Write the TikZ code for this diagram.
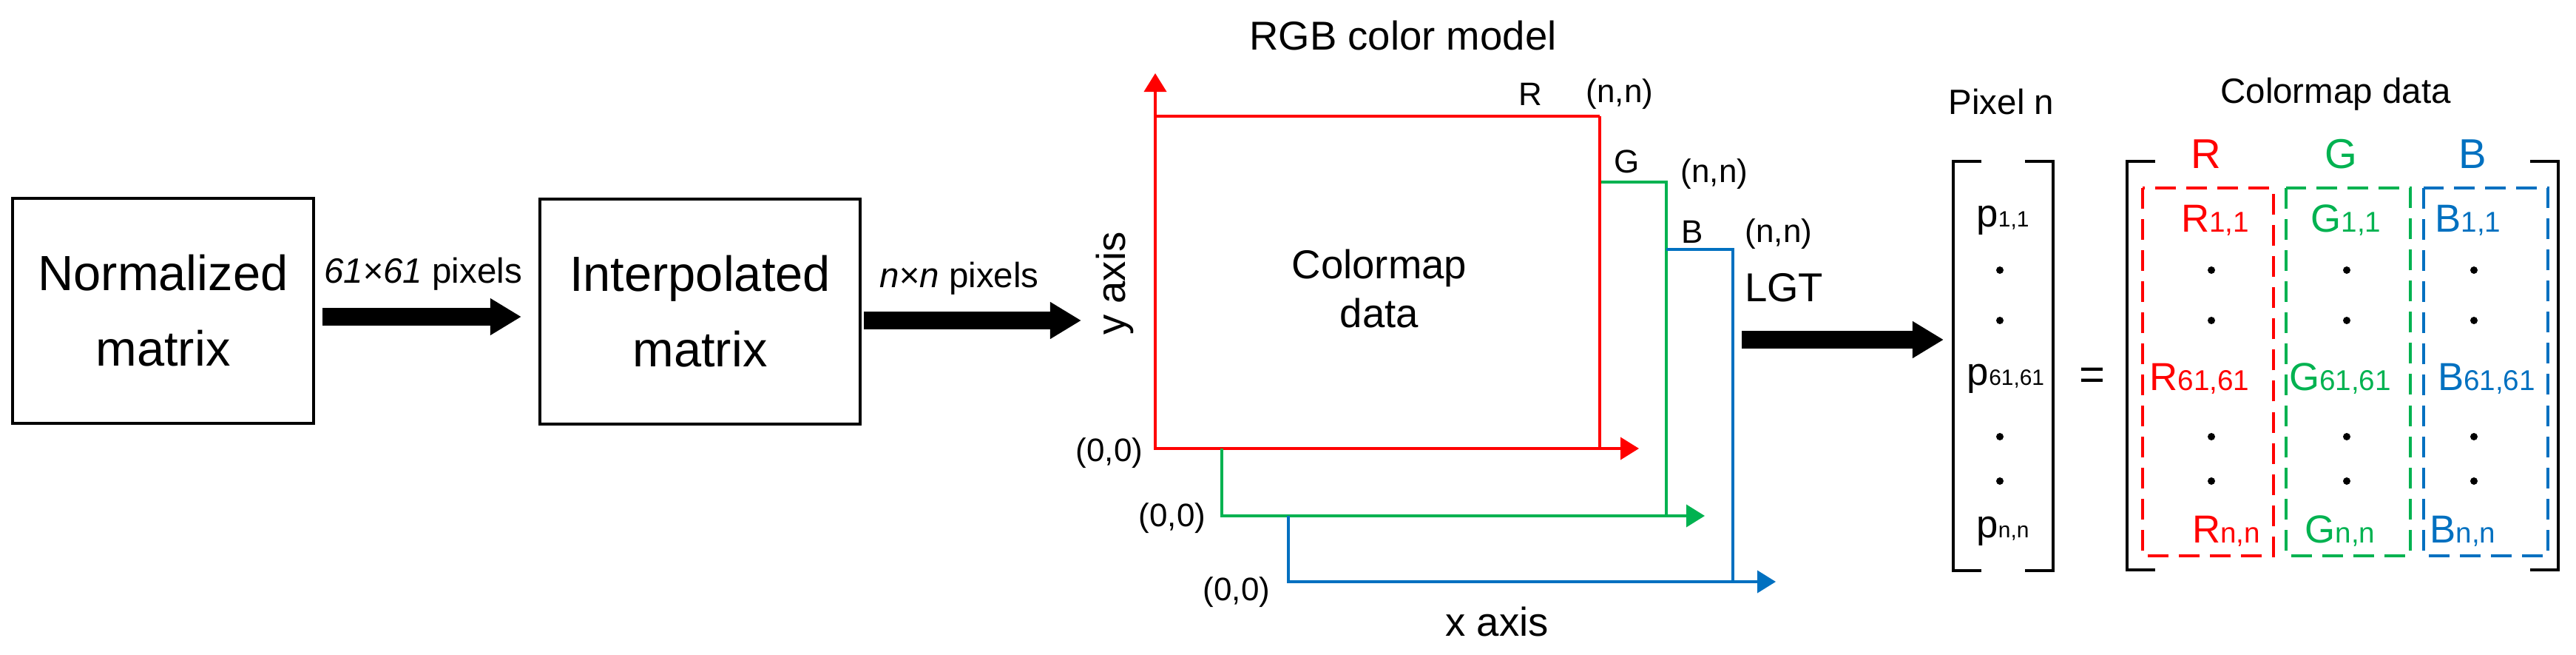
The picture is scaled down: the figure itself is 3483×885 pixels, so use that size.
\documentclass[tikz,border=0pt]{standalone}
\usepackage{fontspec}
\setmainfont{Liberation Sans}
\usetikzlibrary{arrows.meta}
\definecolor{cR}{RGB}{255,0,0}
\definecolor{cG}{RGB}{0,178,80}
\definecolor{cB}{RGB}{0,112,192}
\newcommand{\fz}[1]{\fontsize{#1}{#1}\selectfont}
\newcommand{\ent}[2]{#1{\fz{11}#2}}
\newcommand{\pent}[2]{#1{\fz{8.5}#2}}
\begin{document}
\begin{tikzpicture}[x=0.01cm,y=-0.01cm,
  box/.style={draw,line width=1.1pt,minimum width=4.07cm,minimum height=3.04cm,align=center,font=\fz{19}},
  big/.style={line width=0.23cm,-{Triangle[length=0.42cm,width=0.47cm]}},
  ax/.style={line width=1.1pt,-{Triangle[length=0.25cm,width=0.3cm]}},
  lab/.style={font=\fz{12.5},inner sep=0pt},
  mt/.style={font=\fz{15},inner sep=0pt},
  dsh/.style={line width=1.1pt,dash pattern=on 0.28cm off 0.14cm},
  dot/.style={circle,fill,inner sep=0pt,minimum size=0.1cm}]
\useasboundingbox (0,0) rectangle (3483,885);
% boxes
\node[box] (nm) at (220.5,420) {Normalized\\[0.35cm]matrix};
\node[box,minimum width=4.33cm] (im) at (946.5,421) {Interpolated\\[0.35cm]matrix};
\draw[big,shorten <=0.1cm,shorten >=0.23cm] (nm.east|-0,428) coordinate(a1) -- (im.west|-0,428) coordinate(a2);
\node[font=\fz{13.5}] (l1) at (572,370) {\textit{61×61} pixels};
\coordinate (b1) at (1163,433);
\coordinate (b2) at (1462,433);
\draw[big,shorten <=0.05cm] (b1) -- (b2);
\node[font=\fz{13.5}] (l2) at (1297,376) {\textit{n×n} pixels};
% RGB model
\node[font=\fz{15.5}] (title) at (1897,48) {RGB color model};
\draw[cR,ax] (2163,157) -- (1562,157) -- (1562,606) -- (2216,606);
\draw[cR,ax] (1562,157) -- (1562,99);
\draw[cG,line width=1.1pt] (2163,246) -- (2253,246) -- (2253,697);
\draw[cG,ax] (1652,606) -- (1652,697) -- (2305,697);
\draw[cB,line width=1.1pt] (2253,337) -- (2343,337) -- (2343,786);
\draw[cB,ax] (1742,697) -- (1742,786) -- (2401,786);
\draw[cR,line width=1.1pt] (2163,157) -- (2163,606);
\node[lab] (tR) at (2069,127) {R};
\node[lab] (nR) at (2190,127) {(n,n)};
\node[lab] (tG) at (2200,218) {G};
\node[lab] (nG) at (2318,235) {(n,n)};
\node[lab] (tB) at (2288,313) {B};
\node[lab] (nB) at (2405,316) {(n,n)};
\node[lab] (oR) at (1500,612) {(0,0)};
\node[lab] (oG) at (1585,700) {(0,0)};
\node[lab] (oB) at (1672,800) {(0,0)};
\node[font=\fz{15.5}] (xa) at (2024,840) {x axis};
\node[font=\fz{15.5},rotate=90] (ya) at (1507,383) {y axis};
\node[font=\fz{15.5},align=center] (cd) at (1865,390) {Colormap\\[0.12cm]data};
% LGT
\coordinate (c1) at (2355,459);
\coordinate (c2) at (2628,459);
\draw[big] (c1) -- (c2);
\node[font=\fz{15.5}] (lgt) at (2412,389) {LGT};
% pixel vector
\node[font=\fz{13.5}] (pn) at (2706,138) {Pixel n};
\draw[line width=1.1pt] (2679,218) -- (2641,218) -- (2641,771) -- (2679,771);
\draw[line width=1.1pt] (2738,218) -- (2776,218) -- (2776,771) -- (2738,771);
\node[mt] (p1) at (2708,298) {\pent{p}{1,1}};
\node[dot] (pd1) at (2704,365) {};
\node[dot] (pd2) at (2704,433) {};
\node[mt] (p61) at (2712,512) {\pent{p}{61,61}};
\node[dot] (pd3) at (2704,590) {};
\node[dot] (pd4) at (2704,650) {};
\node[mt] (pnn) at (2708,718) {\pent{p}{n,n}};
\node[font=\fz{17}] (eq) at (2829,512) {=};
% colormap matrix
\node[font=\fz{13.5}] (cmd) at (3158,127) {Colormap data};
\draw[line width=1.1pt] (2914,218) -- (2876,218) -- (2876,770) -- (2914,770);
\draw[line width=1.1pt] (3421,218) -- (3459,218) -- (3459,770) -- (3421,770);
\node[font=\fz{16},text=cR] (hR) at (2983,208) {R};
\node[font=\fz{16},text=cG] (hG) at (3165,208) {G};
\node[font=\fz{16},text=cB] (hB) at (3343,208) {B};
\draw[cR,dsh] (2897,254) rectangle (3074,751);
\draw[cG,dsh] (3091,254) rectangle (3259,751);
\draw[cB,dsh] (3277,254) rectangle (3445,751);
\node[mt,text=cR] (r1) at (2995,298) {\ent{R}{1,1}};
\node[mt,text=cR] (r2) at (2974,512) {\ent{R}{61,61}};
\node[mt,text=cR] (r3) at (3010,718) {\ent{R}{n,n}};
\node[mt,text=cG] (g1) at (3172,298) {\ent{G}{1,1}};
\node[mt,text=cG] (g2) at (3164,512) {\ent{G}{61,61}};
\node[mt,text=cG] (g3) at (3164,718) {\ent{G}{n,n}};
\node[mt,text=cB] (bb1) at (3337,298) {\ent{B}{1,1}};
\node[mt,text=cB] (bb2) at (3362,512) {\ent{B}{61,61}};
\node[mt,text=cB] (bb3) at (3330,718) {\ent{B}{n,n}};
\foreach \x in {2990,3173,3345}{
  \foreach \y in {365,433,590,650}{
    \node[dot] at (\x,\y) {};
  }
}
\end{tikzpicture}
\end{document}
